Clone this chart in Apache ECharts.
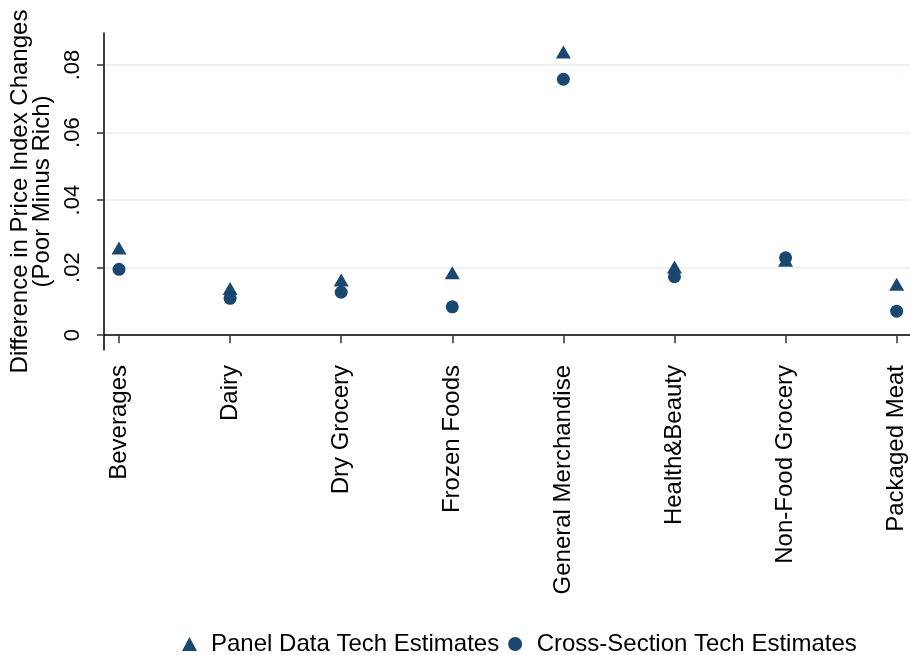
<!DOCTYPE html>
<html>
<head>
<meta charset="utf-8">
<script src="https://cdn.jsdelivr.net/npm/echarts@6/dist/echarts.min.js"></script>
<style>
html, body { margin: 0; padding: 0; background: #fff; }
#main { width: 910px; height: 655px; }
</style>
</head>
<body>
<div id="main"></div>
<script>
// 类别与两组估计值
var categories = ['Beverages', 'Dairy', 'Dry Grocery', 'Frozen Foods',
	'General Merchandise', 'Health&Beauty', 'Non-Food Grocery', 'Packaged Meat'];
var panelValues = [0.0258, 0.0138, 0.0163, 0.0185, 0.0839, 0.0202, 0.0222, 0.0151];
var crossValues = [0.0195, 0.0109, 0.0127, 0.0084, 0.0758, 0.0173, 0.0229, 0.0071];
var yTicks = [0, 0.02, 0.04, 0.06, 0.08];
var xTicks = [1, 2, 3, 4, 5, 6, 7, 8];

var navy = '#1a476f';
var font = 'Liberation Sans, Arial, Helvetica, sans-serif';

function toPoints(vals) {
	var out = [];
	for (var i = 0; i < vals.length; i++) {
		out.push([i + 1, vals[i]]);
	}
	return out;
}

var dom = document.getElementById('main');
var myChart = echarts.init(dom);

var option = {
	backgroundColor: '#fff',
	animation: false,
	textStyle: { fontFamily: font },
	grid: { left: 104, right: 0, top: 33, bottom: 305 },
	legend: {
		left: 177,
		top: 627,
		itemWidth: 15,
		itemHeight: 14,
		itemGap: 9,
		textStyle: { fontSize: 24, color: '#000', fontFamily: font, padding: [0, 0, 0, 9] },
		data: [
			{ name: 'Panel Data Tech Estimates', icon: 'triangle' },
			{ name: 'Cross-Section Tech Estimates', icon: 'circle' }
		]
	},
	xAxis: {
		type: 'value',
		min: 0.865,
		max: 8.12,
		axisLine: { show: true, lineStyle: { color: '#000', width: 1.5 } },
		axisTick: { show: true, customValues: xTicks, length: 8, lineStyle: { color: '#333', width: 1.5 } },
		axisLabel: {
			customValues: xTicks,
			rotate: 90,
			margin: 15,
			fontSize: 24,
			color: '#000',
			fontFamily: font,
			formatter: function(v) { return categories[Math.round(v) - 1] || ''; }
		},
		splitLine: { show: false }
	},
	yAxis: {
		type: 'value',
		min: -0.0044,
		max: 0.0895,
		name: 'Difference in Price Index Changes\n(Poor Minus Rich)',
		nameLocation: 'middle',
		nameRotate: 90,
		nameGap: 45,
		nameTextStyle: { fontSize: 24, lineHeight: 22, color: '#000', fontFamily: font },
		axisLine: { show: true, lineStyle: { color: '#000', width: 1.5 } },
		axisTick: { show: true, customValues: yTicks, length: 7, lineStyle: { color: '#333', width: 1.5 } },
		axisLabel: {
			customValues: yTicks,
			rotate: 90,
			margin: 20,
			fontSize: 22,
			color: '#000',
			fontFamily: font,
			formatter: function(v) {
				if (Math.abs(v) < 1e-9) return '0';
				return v.toFixed(2).replace(/^0/, '');
			}
		},
		splitLine: { show: true, lineStyle: { color: '#e6eff2', width: 1.5 } }
	},
	series: [
		{
			name: 'Panel Data Tech Estimates',
			type: 'scatter',
			symbol: 'triangle',
			symbolSize: [15, 13],
			itemStyle: { color: navy, opacity: 1 },
			data: toPoints(panelValues)
		},
		{
			name: 'Cross-Section Tech Estimates',
			type: 'scatter',
			symbol: 'circle',
			symbolSize: 13,
			itemStyle: { color: navy, opacity: 1 },
			data: toPoints(crossValues)
		}
	]
};

myChart.setOption(option);
</script>
</body>
</html>
